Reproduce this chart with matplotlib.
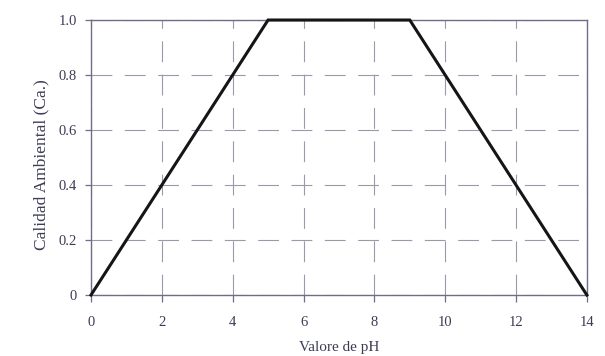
import matplotlib
matplotlib.use("Agg")
import matplotlib.pyplot as plt

ph = [0, 5, 9, 14]
calidad = [0, 1, 1, 0]
xticks = [0, 2, 4, 6, 8, 10, 12, 14]
yticks = [0, 0.2, 0.4, 0.6, 0.8, 1.0]
ytick_labels = ["0", "0.2", "0.4", "0.6", "0.8", "1.0"]

plt.rcParams['lines.scale_dashes'] = False
plt.rcParams['font.family'] = ['Liberation Serif', 'DejaVu Serif']

txt = '#3c3c55'
axis_c = '#6e6e88'
grid_c = '#9a9aab'

fig = plt.figure(figsize=(6.05, 3.56), dpi=100)
ax = fig.add_axes([0.1504, 0.1713, 0.8196, 0.7725])
ax.plot(ph, calidad, color='#151515', lw=2.2, solid_joinstyle='miter', zorder=3, clip_on=False)
ax.set_xlim(0, 14)
ax.set_ylim(0, 1)
ax.set_xticks(xticks)
ax.set_xticklabels([str(x) for x in xticks])
ax.set_yticks(yticks)
ax.set_yticklabels(ytick_labels)
ax.grid(True, color=grid_c, lw=0.8, linestyle=(0, (15, 9)))
for s in ax.spines.values():
    s.set_color(axis_c)
    s.set_linewidth(1.0)
ax.tick_params(axis='x', colors=axis_c, labelcolor=txt, labelsize=10.5, length=5, width=0.9, direction='out', pad=10)
ax.tick_params(axis='y', colors=axis_c, labelcolor=txt, labelsize=10.5, length=4, width=0.9, direction='out', pad=6)
ax.set_xlabel('Valore de pH', color=txt, fontsize=11, labelpad=9)
ax.set_ylabel('Calidad Ambiental (Ca.)', color=txt, fontsize=12.5, labelpad=8)
ax.yaxis.set_label_coords(-0.083, 0.473)
fig.savefig('out.png', dpi=100)
